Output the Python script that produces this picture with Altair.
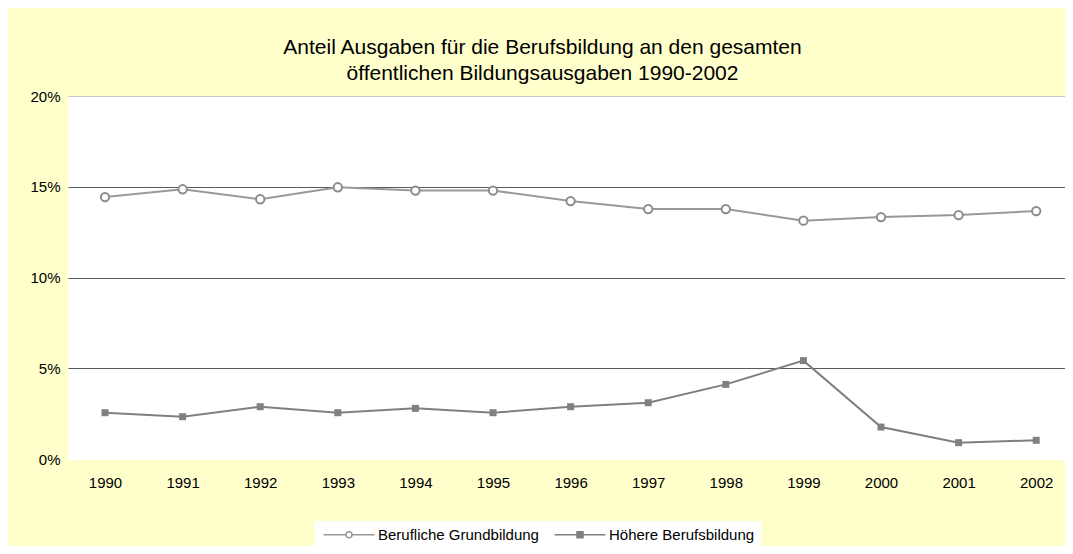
import altair as alt
import pandas as pd

FONT = "Liberation Sans"

years = [1990, 1991, 1992, 1993, 1994, 1995, 1996, 1997, 1998, 1999, 2000, 2001, 2002]
grundbildung = [14.43, 14.86, 14.31, 14.97, 14.79, 14.79, 14.21, 13.77, 13.77, 13.13, 13.33, 13.44, 13.66]
hoehere = [2.55, 2.33, 2.88, 2.55, 2.79, 2.55, 2.88, 3.10, 4.11, 5.42, 1.76, 0.90, 1.03]
series = ["Berufliche Grundbildung", "Höhere Berufsbildung"]
y_ticks = [0, 5, 10, 15, 20]
title_lines = ["Anteil Ausgaben für die Berufsbildung an den gesamten",
               "öffentlichen Bildungsausgaben 1990-2002"]

df = pd.DataFrame({
    "year": years + years,
    "value": grundbildung + hoehere,
    "series": [series[0]] * len(years) + [series[1]] * len(years),
})

x = alt.X("year:Q",
          scale=alt.Scale(domain=[1989.523, 2002.371], nice=False, zero=False),
          axis=alt.Axis(values=years, format="d", title=None, grid=False, ticks=False,
                        domain=False, labelFontSize=15, labelFont=FONT, labelColor="#000000",
                        labelPadding=16, labelFlush=False, labelOverlap=False))
y = alt.Y("value:Q",
          scale=alt.Scale(domain=[0, 20], nice=False, zero=True),
          axis=alt.Axis(values=y_ticks, labelExpr="datum.value + '%'", title=None,
                        ticks=False, domain=False, labelFontSize=15, labelFont=FONT,
                        labelColor="#000000", labelPadding=8, labelFlush=False,
                        gridWidth=1,
                        gridColor={"condition": [{"test": "datum.value === 20", "value": "#c8c8c8"},
                                                 {"test": "datum.value === 0", "value": "#ffffff"}],
                                   "value": "#5a5a5a"}))

base = alt.Chart(df)
g_only = base.transform_filter(alt.datum.series == series[0])
h_only = base.transform_filter(alt.datum.series == series[1])

line_g = g_only.mark_line(strokeWidth=2, color="#999999").encode(x=x, y=y)
line_h = h_only.mark_line(strokeWidth=2, color="#7f7f7f").encode(x=x, y=y)

circles = g_only.mark_point(
    shape="circle", filled=True, fill="#ffffff", stroke="#8c8c8c", strokeWidth=2, size=70, opacity=1
).encode(x=x, y=y)

squares = h_only.mark_point(
    shape="square", filled=True, fill="#808080", strokeWidth=0, size=49, opacity=1
).encode(x=x, y=y)

path_circle = "M-1,0H3.5M4.7,0H9.2M3.5,0A0.6,0.6,0,1,1,4.7,0A0.6,0.6,0,1,1,3.5,0Z"
path_square = "M-1,0H3.5M4.7,0H9.2M3.5,-0.6H4.7V0.6H3.5Z"

leg = alt.Legend(orient="none", legendX=247, legendY=425, direction="horizontal",
                 fillColor="#ffffff", padding=6, labelFontSize=15, labelFont=FONT,
                 labelColor="#000000", labelOffset=42, labelLimit=0, columnPadding=12,
                 symbolSize=100, symbolStrokeWidth=1.5)

# legend-only layer: zero-sized marks, only the legend shows
legend_layer = base.mark_point(filled=True, size=0, strokeWidth=1.5, opacity=1).encode(
    x=x, y=y,
    shape=alt.Shape("series:N", title="", scale=alt.Scale(domain=series, range=[path_circle, path_square]), legend=leg),
    fill=alt.Fill("series:N", title="", scale=alt.Scale(domain=series, range=["#ffffff", "#808080"]), legend=leg),
    stroke=alt.Stroke("series:N", title="", scale=alt.Scale(domain=series, range=["#999999", "#808080"]), legend=leg),
)

chart = alt.layer(line_g, line_h, circles, squares, legend_layer).properties(
    width=997, height=363,
    padding={"left": 60, "top": 88, "right": 0, "bottom": 87},
    autosize=alt.AutoSizeParams(type="none"),
    background="#FFFFCC",
    title=alt.Title(text=title_lines, fontSize=21, font=FONT, fontWeight="normal", color="#000000",
                    anchor="middle", frame="group", offset=18, dx=-24, dy=34, lineHeight=26,
                    baseline="bottom"),
).configure_view(fill="#ffffff", strokeOpacity=0)

chart.save("out.html", embed_options={"renderer": "svg", "actions": False})
